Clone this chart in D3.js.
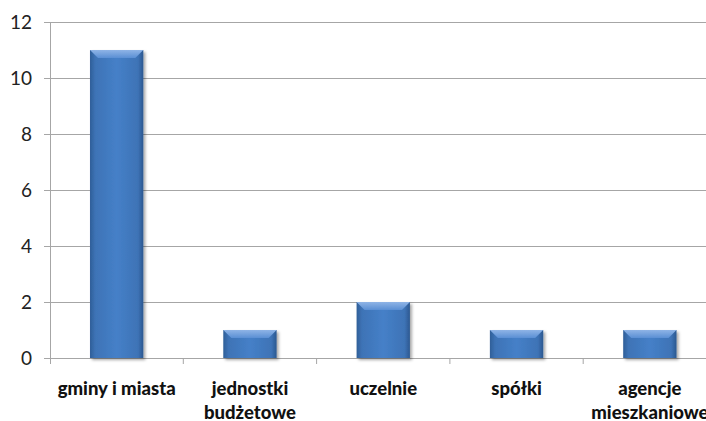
<!DOCTYPE html>
<html>
<head>
<meta charset="utf-8">
<script src="https://cdn.jsdelivr.net/npm/d3@7"></script>
<style>
body { margin: 0; background: #fff; overflow: hidden; }
svg { display: block; }
</style>
</head>
<body>
<div id="chart-area"></div>
<script>
// dane
var categories = [["gminy i miasta"], ["jednostki", "budżetowe"], ["uczelnie"], ["spółki"], ["agencje", "mieszkaniowe"]];
var values = [11, 1, 2, 1, 1];
var yTicks = [0, 2, 4, 6, 8, 10, 12];

var width = 706, height = 421;
var margin = {left: 50, top: 22, bottom: 63};

var svg = d3.select("#chart-area").append("svg")
		.attr("width", width)
		.attr("height", height);

var x = d3.scaleBand()
		.domain(d3.range(values.length))
		.range([margin.left, margin.left + 133.3 * values.length])
		.paddingInner(0.6)
		.paddingOuter(0.3);

var y = d3.scaleLinear()
		.domain([0, 12])
		.range([height - margin.bottom, margin.top]);

var defs = svg.append("defs");
var grad = defs.append("linearGradient").attr("id", "barGrad")
		.attr("x1", "0").attr("x2", "1").attr("y1", "0").attr("y2", "0");
grad.append("stop").attr("offset", "0").attr("stop-color", "#2f5f98");
grad.append("stop").attr("offset", "0.1").attr("stop-color", "#3e73b6");
grad.append("stop").attr("offset", "0.5").attr("stop-color", "#4580c8");
grad.append("stop").attr("offset", "0.9").attr("stop-color", "#3e73b6");
grad.append("stop").attr("offset", "1").attr("stop-color", "#2b5890");

var topGrad = defs.append("linearGradient").attr("id", "topGrad")
		.attr("x1", "0").attr("x2", "0").attr("y1", "0").attr("y2", "1");
topGrad.append("stop").attr("offset", "0").attr("stop-color", "#8fb4e6");
topGrad.append("stop").attr("offset", "1").attr("stop-color", "#5a8fd4");

var shadow = defs.append("filter").attr("id", "shadow")
		.attr("x", "-20%").attr("y", "-20%").attr("width", "150%").attr("height", "150%");
shadow.append("feDropShadow").attr("dx", 2).attr("dy", 2).attr("stdDeviation", 1.5)
		.attr("flood-color", "#000").attr("flood-opacity", 0.35);

// siatka
svg.append("g")
	.selectAll("line")
	.data(yTicks)
	.enter()
	.append("line")
		.attr("x1", margin.left - 6)
		.attr("x2", width)
		.attr("y1", (d) => y(d) + 0.5)
		.attr("y2", (d) => y(d) + 0.5)
		.attr("stroke", "#a6a6a6")
		.attr("stroke-width", 1);

// oś Y
svg.append("line")
		.attr("x1", margin.left + 0.5).attr("x2", margin.left + 0.5)
		.attr("y1", y(12)).attr("y2", y(0) + 6)
		.attr("stroke", "#a6a6a6");

svg.append("g")
	.selectAll("text")
	.data(yTicks)
	.enter()
	.append("text")
		.attr("x", 32)
		.attr("y", (d) => y(d))
		.attr("dy", "0.36em")
		.attr("text-anchor", "end")
		.attr("font-family", "Lato, 'Open Sans', sans-serif")
		.attr("font-size", 19)
		.attr("fill", "#222")
		.text((d) => d);

// znaczniki kategorii
var step = x.step();
svg.append("g")
	.selectAll("line")
	.data(d3.range(1, values.length))
	.enter()
	.append("line")
		.attr("x1", (d) => x(0) - x.paddingOuter() * step + d * step)
		.attr("x2", (d) => x(0) - x.paddingOuter() * step + d * step)
		.attr("y1", y(0))
		.attr("y2", y(0) + 6)
		.attr("stroke", "#a6a6a6");

// słupki
var bars = svg.append("g").selectAll("g")
	.data(values)
	.enter()
	.append("g");

bars.append("rect")
		.attr("x", (d, i) => x(i))
		.attr("y", (d) => y(d))
		.attr("width", x.bandwidth())
		.attr("height", (d) => y(0) - y(d))
		.attr("fill", "url(#barGrad)")
		.attr("filter", "url(#shadow)");

bars.append("path")
		.attr("d", (d, i) => {
			var x0 = x(i), x1 = x(i) + x.bandwidth(), t = y(d), b = 8;
			return "M" + x0 + "," + t + "L" + x1 + "," + t + "L" + (x1 - b) + "," + (t + b) + "L" + (x0 + b) + "," + (t + b) + "Z";
		})
		.attr("fill", "url(#topGrad)");

// etykiety kategorii
var labels = svg.append("g").selectAll("text")
	.data(categories)
	.enter()
	.append("text")
		.attr("x", (d, i) => x(i) + x.bandwidth() / 2)
		.attr("y", 395)
		.attr("text-anchor", "middle")
		.attr("font-family", "Lato, 'Open Sans', sans-serif")
		.attr("font-weight", "900")
		.attr("font-size", 18.5)
		.attr("fill", "#111");

labels.selectAll("tspan")
	.data((d) => d)
	.enter()
	.append("tspan")
		.attr("x", function() { return d3.select(this.parentNode).attr("x"); })
		.attr("dy", (d, i) => i === 0 ? 0 : 24)
		.text((d) => d);
</script>
</body>
</html>
